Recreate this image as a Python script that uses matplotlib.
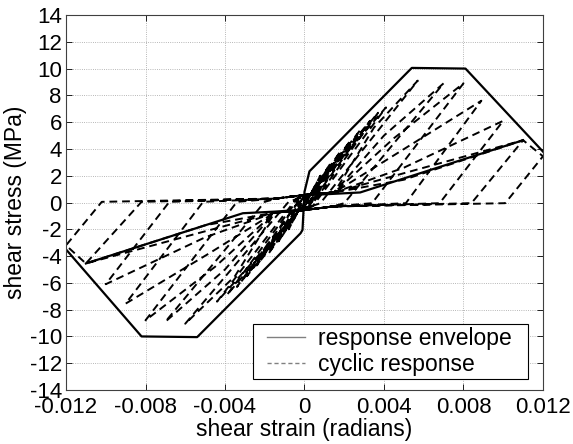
import matplotlib
matplotlib.use("Agg")
import matplotlib.pyplot as plt
from matplotlib.lines import Line2D
from matplotlib.legend_handler import HandlerLine2D

plt.rcParams['font.family'] = ['Liberation Sans', 'DejaVu Sans']
plt.rcParams['axes.unicode_minus'] = False

# outer envelope (strain in rad, stress in MPa)
env_x = [-0.012, -0.0082, -0.0054, -0.0002, -0.0001, 0.0, 0.00025, 0.0054, 0.0081, 0.012]
env_y = [-3.5, -10.0, -10.05, -2.3, -2.05, 0.8, 2.33, 10.05, 10.0, 3.8]

# backbone through the last cycle
bb_x = [-0.0110, -0.0031, -0.0015, -0.0002, 0.0002, 0.0015, 0.0028, 0.0110]
bb_y = [-4.55, -0.8, -0.68, -0.55, 0.55, 0.65, 0.75, 4.65]

# small cycles (dense band near origin)
small_pos_x = [0.0008, 0.0013, 0.0018, 0.0023, 0.0028, 0.0033, 0.0037, 0.0041]
small_pos_y = [2.0, 2.9, 3.8, 4.6, 5.4, 6.1, 6.7, 7.1]
small_pos_unload = [0.0000, 0.0000, 0.0001, 0.0001, 0.0002, 0.0002, 0.0003, 0.0004]
small_neg_x = [-0.0008, -0.0013, -0.0018, -0.0024, -0.0029, -0.0034, -0.0039, -0.0044]
small_neg_y = [-2.0, -2.9, -3.8, -4.7, -5.5, -6.3, -6.9, -7.4]
small_neg_unload = [0.0000, 0.0000, -0.0001, -0.0001, -0.0002, -0.0002, -0.0003, -0.0004]

# large cycles
pos_peak_x = [0.0057, 0.0070, 0.0080, 0.0089, 0.0100, 0.0110, 0.0120]
pos_peak_y = [9.1, 8.9, 8.9, 7.6, 6.1, 4.65, 3.45]
pos_mid_x = [0.0035, 0.0040, 0.0045, 0.0048, 0.0050, 0.0050, 0.0110]
pos_mid_y = [5.6, 5.0, 4.8, 3.8, 2.6, 1.7, 4.65]
pos_unload_x = [0.0008, 0.0020, 0.0034, 0.0051, 0.0068, 0.0084, 0.0101]
neg_peak_x = [-0.0060, -0.0070, -0.0080, -0.0090, -0.0100, -0.0110, -0.0120]
neg_peak_y = [-9.05, -8.9, -8.8, -7.55, -6.1, -4.55, -3.2]
neg_mid_x = [-0.0035, -0.0040, -0.0045, -0.0048, -0.0050, -0.0050, -0.0110]
neg_mid_y = [-5.5, -5.0, -4.8, -3.8, -2.6, -1.7, -4.55]
neg_unload_x = [-0.0008, -0.0020, -0.0034, -0.0051, -0.0068, -0.0082, -0.0102]

# pinched branch knees
pinch_pos = (0.0015, 0.75)
pinch_neg = (-0.0015, -0.75)
flat_pos_end = (0.0003, 0.62)
flat_neg_end = (-0.0003, -0.62)
knee_pos = (-0.0014, 0.3)
knee_neg = (0.0014, -0.3)

xticks = [-0.012, -0.008, -0.004, 0, 0.004, 0.008, 0.012]
xticklabels = ["-0.012", "-0.008", "-0.004", "0", "0.004", "0.008", "0.012"]
yticks = list(range(-14, 15, 2))

# build the cyclic path
cx, cy = [0.0], [0.0]
for px, py, ux, nx, ny, vx in zip(small_pos_x, small_pos_y, small_pos_unload,
                                  small_neg_x, small_neg_y, small_neg_unload):
    cx += [flat_pos_end[0], px, ux, flat_neg_end[0], nx, vx, flat_pos_end[0]]
    cy += [flat_pos_end[1], py, -0.3, flat_neg_end[1], ny, 0.3, flat_pos_end[1]]

for i in range(len(pos_peak_x)):
    cx += [pinch_pos[0], pos_mid_x[i], pos_peak_x[i], pos_unload_x[i]]
    cy += [pinch_pos[1], pos_mid_y[i], pos_peak_y[i], -0.05]
    if pos_unload_x[i] > knee_neg[0]:
        cx.append(knee_neg[0]); cy.append(knee_neg[1])
    cx += [flat_neg_end[0], pinch_neg[0], neg_mid_x[i], neg_peak_x[i], neg_unload_x[i]]
    cy += [flat_neg_end[1], pinch_neg[1], neg_mid_y[i], neg_peak_y[i], 0.05]
    if neg_unload_x[i] < knee_pos[0]:
        cx.append(knee_pos[0]); cy.append(knee_pos[1])
    cx.append(flat_pos_end[0]); cy.append(flat_pos_end[1])

fig = plt.figure(figsize=(5.73, 4.44), dpi=100)
ax = fig.add_axes([0.1152, 0.1216, 0.8324, 0.8446])

ax.plot(cx, cy, color="black", lw=1.4, ls=(0, (4, 2.5)))
ax.plot(env_x, env_y, color="black", lw=1.6)
ax.plot(bb_x, bb_y, color="black", lw=1.6)

ax.set_xlim(-0.012, 0.012)
ax.set_ylim(-14, 14)
ax.set_xticks(xticks)
ax.set_xticklabels(xticklabels)
ax.set_yticks(yticks)
ax.tick_params(direction="in", length=4, width=0.6, top=True, right=True, labelsize=16)
ax.tick_params(axis="x", pad=5)
ax.tick_params(axis="y", pad=3)
ax.grid(True, ls=":", lw=0.6, color="#a0a0a0")
for s in ax.spines.values():
    s.set_linewidth(0.8)
    s.set_color("#404040")

ax.set_xlabel("shear strain (radians)", fontsize=16.5, labelpad=0)
ax.set_ylabel("shear stress (MPa)", fontsize=16.5, labelpad=2)

handles = [Line2D([0], [0], color="#808080", lw=1.0),
           Line2D([0], [0], color="#808080", lw=1.0, ls=(0, (3, 2)))]
hmap = {h: HandlerLine2D(xpad=0.45) for h in handles}
leg = ax.legend(handles, ["response envelope", "cyclic response"], loc="lower left",
                bbox_to_anchor=(0.392, 0.029, 0.5765, 0.1), mode="expand",
                borderaxespad=0, fontsize=16.5, handler_map=hmap,
                fancybox=False, framealpha=1, edgecolor="black", handlelength=2.1,
                handletextpad=0.6, labelspacing=0.1, borderpad=0.15)
leg.get_frame().set_linewidth(0.8)

fig.savefig("out.png", dpi=100)
